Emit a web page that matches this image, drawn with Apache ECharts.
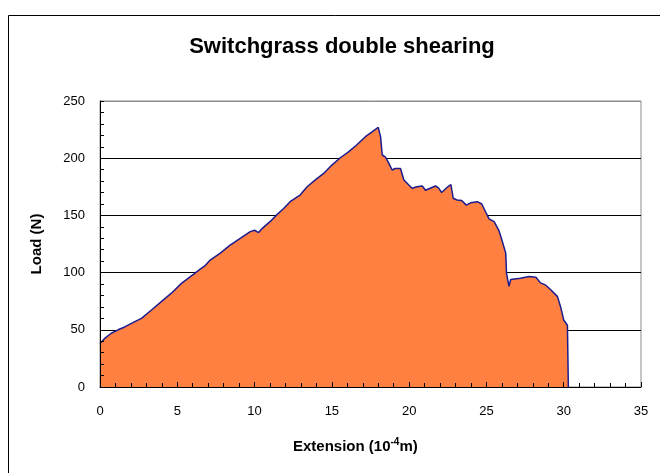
<!DOCTYPE html>
<html>
<head>
<meta charset="utf-8">
<script src="https://cdn.jsdelivr.net/npm/echarts@6/dist/echarts.min.js"></script>
<style>html,body{margin:0;padding:0;background:#fff;}#c{width:660px;height:473px;}</style>
</head>
<body>
<div id="c"></div>
<script>
var titleText = 'Switchgrass double shearing';
var xName = 'Extension (10{sup|-4}m)';
var yName = 'Load (N)';
var xTicks = [0, 35, 5];
var yTicks = [0, 250, 50];

var extension = [0,0.3,0.73,1.17,1.6,2.03,2.68,3.33,3.97,4.62,5.27,5.7,6.13,6.48,6.78,7.13,7.78,8.42,9.07,9.72,10.0,10.26,10.5,11.0,11.4,11.88,12.3,12.96,13.4,13.93,14.47,15.0,15.55,16.1,16.6,17.17,17.6,18.0,18.15,18.26,18.47,18.69,18.9,19.1,19.44,19.66,19.98,20.2,20.5,20.85,21.06,21.4,21.7,21.9,22.1,22.5,22.7,22.85,23.1,23.4,23.7,23.98,24.4,24.7,24.95,25.17,25.5,25.8,26.0,26.25,26.3,26.46,26.57,27.2,27.76,28.2,28.5,28.84,29.16,29.6,29.8,30.0,30.24,30.3,30.3];
var load = [38,42.5,47,50,52.5,55.6,60,67.3,74.6,82,90.6,95,99.4,103,105.8,111,117,124,130,135.8,137,135,138.7,144.5,150,156,162,168,175,181,186.7,194,200.4,205.7,211.5,218.8,223,227,218.8,202.8,201,195.5,189.7,191,191,181,176.6,173.7,175,175.7,172,174,175.7,174,170,175,177,165,163.5,163,159,161,162,160,153,147,144.5,137,128.5,117,99.4,88,94,95,96.5,96,91,89,85,79,70,58.6,54,54,0];

var points = extension.map(function (x, i) { return [x, load[i]]; });
var font = 'Arial, "Liberation Sans", sans-serif';

var chart = echarts.init(document.getElementById('c'), null, {renderer: 'canvas'});
chart.setOption({
  animation: false,
  backgroundColor: '#ffffff',
  title: {
    text: titleText, left: 337, top: 31, textAlign: 'center',
    textStyle: {fontFamily: font, fontSize: 22, fontWeight: 'bold', color: '#000'}
  },
  grid: {left: 100, right: 19, top: 101, bottom: 86, show: true, borderColor: '#8c8c8c', borderWidth: 1, backgroundColor: 'transparent'},
  xAxis: {
    type: 'value', min: xTicks[0], max: xTicks[1], interval: xTicks[2], z: 10,
    axisLine: {lineStyle: {color: '#000', width: 1}},
    axisTick: {show: true, inside: true, length: 5, lineStyle: {color: '#000'}},
    minorTick: {show: true, splitNumber: 5, length: 4, lineStyle: {color: '#000'}},
    axisLabel: {fontFamily: font, fontSize: 13, color: '#000', margin: 18},
    splitLine: {show: false}
  },
  yAxis: [{
    type: 'value', min: yTicks[0], max: yTicks[1], interval: yTicks[2], z: 0,
    axisLine: {show: false}, axisTick: {show: false}, axisLabel: {show: false},
    splitLine: {show: true, lineStyle: {color: ['#000','#000','#000','#000','#000','#8c8c8c'], width: 1}}
  }, {
    type: 'value', min: yTicks[0], max: yTicks[1], interval: yTicks[2], z: 10, position: 'left',
    axisLine: {show: true, lineStyle: {color: '#000', width: 1}},
    axisTick: {show: true, inside: true, length: 4, lineStyle: {color: '#000'}},
    minorTick: {show: true, splitNumber: 5, length: 4, lineStyle: {color: '#000'}},
    axisLabel: {fontFamily: font, fontSize: 13, color: '#000', margin: 15},
    splitLine: {show: false},
    name: yName, nameLocation: 'middle', nameGap: 56, nameRotate: 90,
    nameTextStyle: {fontFamily: font, fontSize: 15, fontWeight: 'bold', color: '#000'}
  }],
  graphic: [{
    type: 'rect', left: 6, top: 13, z: 100, silent: true,
    shape: {width: 700, height: 500},
    style: {fill: 'none', stroke: '#000', lineWidth: 1}
  }, {
    type: 'text', left: 293, top: 437, z: 100,
    style: {
      text: xName, fontFamily: font, fontSize: 15, fontWeight: 'bold', fill: '#000', lineHeight: 20,
      rich: {sup: {fontFamily: font, fontSize: 10, fontWeight: 'bold', fill: '#000', verticalAlign: 'top', lineHeight: 10}}
    }
  }],
  series: [{
    type: 'line', data: points, yAxisIndex: 0, symbol: 'none', z: 5,
    lineStyle: {color: '#1c1c8f', width: 1.5},
    areaStyle: {color: '#ff8040', opacity: 1}
  }]
});
</script>
</body>
</html>
